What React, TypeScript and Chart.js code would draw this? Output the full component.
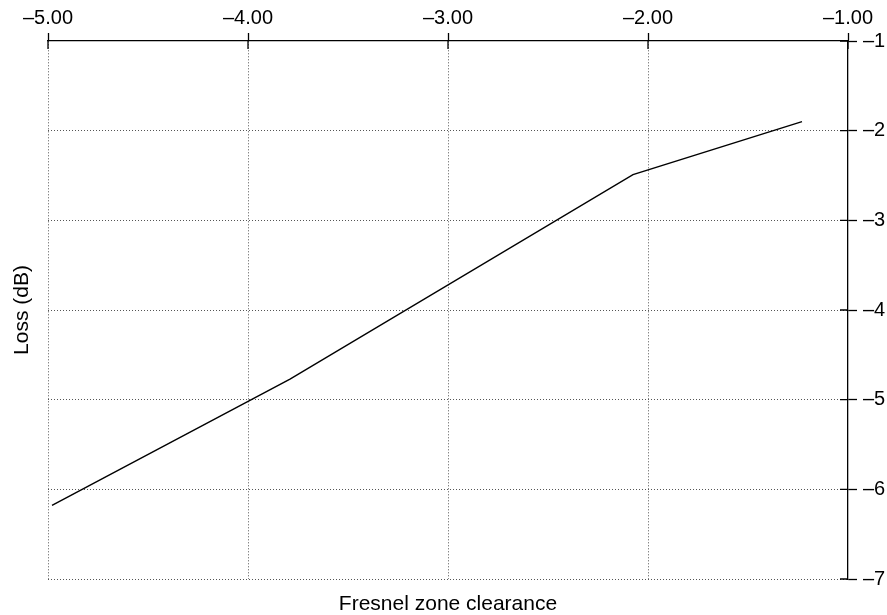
import React, { useEffect, useRef } from "react";
import { Chart, registerables } from "chart.js";

Chart.register(...registerables);

const clearance = [-4.98, -3.79, -2.075, -1.23];
const lossDb = [-6.18, -4.77, -2.49, -1.9];
const xTicks = [-5, -4, -3, -2, -1];
const yTicks = [-1, -2, -3, -4, -5, -6, -7];

const FONT = "'Liberation Sans', Arial, Helvetica, sans-serif";
const fmtMinus = (v: number, d: number) => (v < 0 ? "\u2013" : "") + Math.abs(v).toFixed(d);

const innerTicks = {
  id: "innerTicks",
  afterDatasetsDraw(chart: any) {
    const ctx = chart.ctx;
    const x = chart.scales.x;
    const y = chart.scales.y;
    const a = chart.chartArea;
    ctx.save();
    ctx.strokeStyle = "#000";
    ctx.lineWidth = 1.3;
    ctx.beginPath();
    xTicks.forEach((t) => {
      const px = x.getPixelForValue(t);
      ctx.moveTo(px, a.top);
      ctx.lineTo(px, a.top + 8);
    });
    yTicks.forEach((t) => {
      const py = y.getPixelForValue(t);
      ctx.moveTo(a.right, py);
      ctx.lineTo(a.right - 8, py);
    });
    ctx.stroke();
    ctx.restore();
  },
};

export default function App() {
  const ref = useRef<HTMLCanvasElement>(null);
  useEffect(() => {
    document.body.style.margin = "0";
    const chart = new Chart(ref.current!, {
      type: "scatter",
      data: {
        datasets: [
          {
            data: clearance.map((c, i) => ({ x: c, y: lossDb[i] })),
            showLine: true,
            borderColor: "#000",
            borderWidth: 1.4,
            pointRadius: 0,
            xAxisID: "x",
            yAxisID: "y",
          },
        ],
      },
      plugins: [innerTicks],
      options: {
        animation: false,
        responsive: false,
        layout: { padding: 0 },
        plugins: { legend: { display: false }, tooltip: { enabled: false } },
        scales: {
          x: {
            type: "linear",
            position: "top",
            min: -5,
            max: -1,
            afterBuildTicks: (s: any) => {
              s.ticks = xTicks.map((v) => ({ value: v }));
            },
            afterFit: (s: any) => {
              s.height = 41;
            },
            ticks: {
              color: "#000",
              font: { family: FONT, size: 20 },
              padding: 3,
              maxRotation: 0,
              autoSkip: false,
              callback: (v: any) => fmtMinus(Number(v), 2),
            },
            grid: {
              color: (c: any) => (c.tick && c.tick.value === -1 ? "rgba(0,0,0,0)" : "#555"),
              lineWidth: 1,
              tickLength: 8,
              tickColor: "#000",
              tickWidth: 1.3,
              tickBorderDash: [],
            } as any,
            border: { display: true, color: "#000", width: 1.3, dash: [1, 2] },
          },
          y: {
            type: "linear",
            position: "right",
            min: -7,
            max: -1,
            afterBuildTicks: (s: any) => {
              s.ticks = yTicks.map((v) => ({ value: v }));
            },
            afterFit: (s: any) => {
              s.width = 39;
            },
            ticks: {
              color: "#000",
              font: { family: FONT, size: 20 },
              padding: 6,
              autoSkip: false,
              callback: (v: any) => fmtMinus(Number(v), 0),
            },
            grid: {
              color: (c: any) => (c.tick && c.tick.value === -1 ? "rgba(0,0,0,0)" : "#555"),
              lineWidth: 1,
              tickLength: 9,
              tickColor: "#000",
              tickWidth: 1.3,
              tickBorderDash: [],
            } as any,
            border: { display: true, color: "#000", width: 1.3, dash: [1, 2] },
          },
          xTitle: {
            type: "linear",
            position: "bottom",
            min: 0,
            max: 1,
            afterFit: (s: any) => {
              s.height = 36;
            },
            ticks: { display: false },
            grid: { display: false },
            border: { display: false },
            title: {
              display: true,
              text: "Fresnel zone clearance",
              color: "#000",
              font: { family: FONT, size: 21 },
              padding: { top: 10, bottom: -2 },
            },
          },
          yTitle: {
            type: "linear",
            position: "left",
            min: 0,
            max: 1,
            afterFit: (s: any) => {
              s.width = 48;
            },
            ticks: { display: false },
            grid: { display: false },
            border: { display: false },
            title: {
              display: true,
              text: "Loss (dB)",
              color: "#000",
              font: { family: FONT, size: 21 },
              padding: { top: 10, bottom: 0 },
            },
          },
        },
      } as any,
    });
    return () => chart.destroy();
  }, []);
  return (
    <div style={{ width: 887, height: 615 }}>
      <canvas ref={ref} width={887} height={615} style={{ width: 887, height: 615, display: "block" }} />
    </div>
  );
}
